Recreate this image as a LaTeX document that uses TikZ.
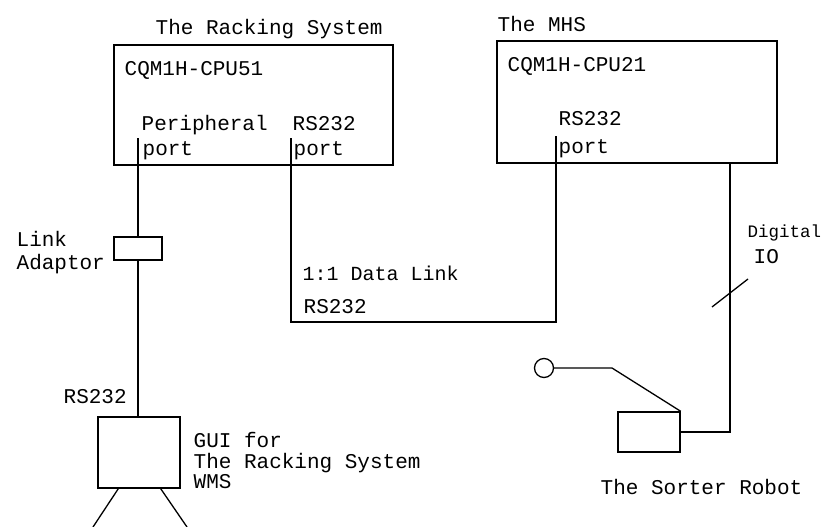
\documentclass[tikz,border=0pt]{standalone}
\usepackage{fontspec}
\setmonofont{Liberation Mono}
\begin{document}
\begin{tikzpicture}[x=1pt,y=-1pt,line width=1.3pt,
  box/.style={draw,rectangle,inner sep=0pt,line width=1.4pt},
  lbl/.style={anchor=base west,inner sep=0pt,font=\ttfamily\fontsize{21}{21}\selectfont},
  sized/.style={font=\ttfamily\fontsize{#1}{#1}\selectfont},
  wire/.style={draw,line width=1.3pt}]
\useasboundingbox (0,0) rectangle (822,527);

% --- units ---
\node[box,minimum width=279pt,minimum height=120pt] (rack) at (253.5,105) {};
\node[box,minimum width=280pt,minimum height=122pt] (mhs) at (637,102) {};
\node[box,minimum width=48pt,minimum height=23pt] (adaptor) at (138,248.5) {};
\node[box,minimum width=82pt,minimum height=71pt] (gui) at (139,452.5) {};
\node[box,minimum width=62pt,minimum height=40pt] (robot) at (649,432) {};
\node[draw,circle,inner sep=0pt,minimum size=19pt,line width=1.3pt] (ball) at (544,368) {};

% --- labels ---
\node[lbl] (t1) at (155,35) {The Racking System};
\node[lbl] (t2) at (124,76) {CQM1H-CPU51};
\node[lbl] (t3) at (141,130) {Peripheral};
\node[lbl] (t4) at (142,155) {port};
\node[lbl] (t5) at (292,130) {RS232};
\node[lbl] (t6) at (293,155) {port};
\node[lbl] (t7) at (497,32) {The MHS};
\node[lbl] (t8) at (507,72) {CQM1H-CPU21};
\node[lbl] (t9) at (558,125) {RS232};
\node[lbl] (t10) at (558,153) {port};
\node[lbl] (t11) at (16,246) {Link};
\node[lbl] (t12) at (16,269) {Adaptor};
\node[lbl,sized=20] (t13) at (302,280) {1:1 Data Link};
\node[lbl] (t14) at (303,313) {RS232};
\node[lbl,sized=17.5] (t15) at (747,237) {Digital};
\node[lbl] (t16) at (753,263) {IO};
\node[lbl] (t17) at (63,403) {RS232};
\node[lbl] (t18) at (193,447) {GUI for};
\node[lbl] (t19) at (193,468) {The Racking System};
\node[lbl] (t20) at (193,488) {WMS};
\node[lbl] (t21) at (600,494) {The Sorter Robot};

% --- port points and bends ---
\coordinate (pp) at (138,138);
\coordinate (rp) at (291,138);
\coordinate (mp) at (556,136);
\coordinate (dl) at (291,322);
\coordinate (dio) at (730,0);
\coordinate (arm) at (612,368);
\coordinate (legL) at (93,527);
\coordinate (legR) at (187,527);

% --- connectors ---
\draw[wire] (pp) -- (adaptor.north);
\draw[wire] (adaptor.south) -- (adaptor.south |- gui.north);
\draw[wire] (rp) -- (dl) -| (mp);
\draw[wire] (mhs.south -| dio) |- (robot.east);
\draw[wire] (712,307) -- (748,279);
\draw[wire] (ball.east) -- (arm) -- (robot.north east);
\draw[wire] ([xshift=21pt]gui.south west) -- (legL);
\draw[wire] ([xshift=-20pt]gui.south east) -- (legR);
\end{tikzpicture}
\end{document}
